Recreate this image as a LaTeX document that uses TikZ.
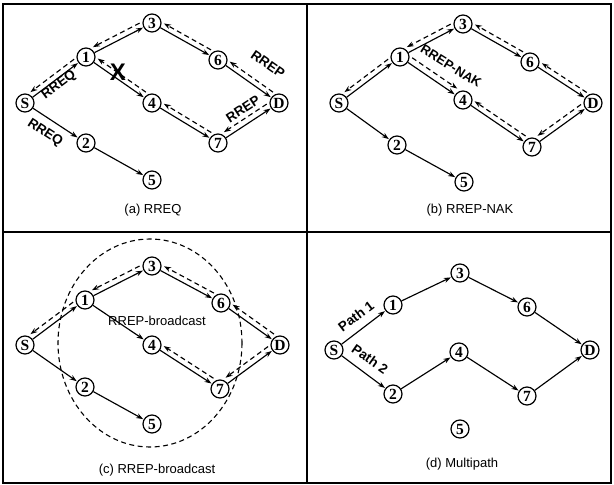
\documentclass[tikz,border=0pt]{standalone}
\usepackage{fontspec}
\setmainfont{Liberation Serif}
\setsansfont{Liberation Sans}
\usetikzlibrary{arrows.meta}
\begin{document}
\begin{tikzpicture}[x=1pt,y=-1pt,
  nd/.style={circle,draw,line width=1.2pt,minimum size=18pt,inner sep=0pt,font=\fontsize{15.5}{15.5}\selectfont\bfseries},
  fw/.style={line width=1.15pt,-{Stealth[length=7pt,width=5pt]},shorten >=0.5pt},
  rv/.style={line width=1.15pt,dash pattern=on 5pt off 3.5pt,-{Stealth[length=7pt,width=5pt]},shorten >=1pt,shorten <=1.5pt},
  off/.style={transform canvas={shift={#1}}},
  lbl/.style={font=\sffamily\bfseries\fontsize{13.5}{13.5}\selectfont,inner sep=0pt},
  captxt/.style={font=\sffamily\fontsize{13}{13}\selectfont,inner sep=0pt},
  frm/.style={line width=1.5pt}
]
\useasboundingbox (0,0) rectangle (614,485);
% frame
\draw[frm] (3,4) rectangle (611,483);
\draw[frm] (307,4) -- (307,483);
\draw[frm] (3,232) -- (611,232);

% ---------- panel (a)
\node[nd] (aS) at (25,103) {S};
\node[nd] (a1) at (86,57) {1};
\node[nd] (a3) at (152,23) {3};
\node[nd] (a6) at (218,60) {6};
\node[nd] (aD) at (279,103) {D};
\node[nd] (a4) at (152,103) {4};
\node[nd] (a7) at (218,143) {7};
\node[nd] (a2) at (86,143) {2};
\node[nd] (a5) at (152,180) {5};
\foreach \u/\v in {aS/a1,aS/a2,a1/a3,a1/a4,a3/a6,a6/aD,a4/a7,a7/aD,a2/a5}
  \draw[fw] (\u) -- (\v);
\draw[rv,off={(-3,-4.5)}] (a1) -- (aS);
\draw[rv,off={(-2.5,-5)}] (a3) -- (a1);
\draw[rv,off={(2.7,-4.7)}] (a6) -- (a3);
\draw[rv,off={(3,-4.5)}] (aD) -- (a6);
\draw[rv,off={(3,-4.5)}] (a4) -- (a1);
\draw[rv,off={(2.8,-4.7)}] (a7) -- (a4);
\draw[rv,off={(-3,-5)}] (aD) -- (a7);
\node[lbl,rotate=37] (la1) at (59,85) {RREQ};
\node[lbl,rotate=-33] (la2) at (45,133) {RREQ};
\node[lbl,rotate=-35] (la3) at (268,64) {RREP};
\node[lbl,rotate=33] (la4) at (243,109) {RREP};
\node[font=\sffamily\bfseries\fontsize{24}{24}\selectfont,inner sep=0pt] (ax) at (118,72) {X};
\node[captxt] (ca) at (153,210) {(a) RREQ};

% ---------- panel (b)
\node[nd] (bS) at (339,103) {S};
\node[nd] (b1) at (400,57) {1};
\node[nd] (b3) at (463,24) {3};
\node[nd] (b6) at (530,62) {6};
\node[nd] (bD) at (593,103) {D};
\node[nd] (b4) at (463,100) {4};
\node[nd] (b7) at (532,147) {7};
\node[nd] (b2) at (397,145) {2};
\node[nd] (b5) at (464,182) {5};
\foreach \u/\v in {bS/b1,bS/b2,b1/b3,b1/b4,b3/b6,b6/bD,b4/b7,b7/bD,b2/b5}
  \draw[fw] (\u) -- (\v);
\draw[rv,off={(-3,-4.5)}] (b1) -- (bS);
\draw[rv,off={(-2.5,-5)}] (b3) -- (b1);
\draw[rv,off={(2.7,-4.7)}] (b6) -- (b3);
\draw[rv,off={(3,-4.5)}] (bD) -- (b6);
\draw[rv,off={(3,-5.5)}] (b1) -- (b4);
\draw[rv,off={(2.8,-4.7)}] (b7) -- (b4);
\draw[rv,off={(-3,-5)}] (bD) -- (b7);
\node[lbl,rotate=-32,font=\sffamily\bfseries\fontsize{13}{13}\selectfont] (lb1) at (451,66) {RREP-NAK};
\node[captxt] (cb) at (470,210) {(b) RREP-NAK};

% ---------- panel (c)
\draw[line width=1.1pt,dash pattern=on 5pt off 3.5pt] (150,343) ellipse [x radius=92, y radius=104];
\node[nd] (cS) at (25,345) {S};
\node[nd] (c1) at (85,300) {1};
\node[nd] (c3) at (152,266) {3};
\node[nd] (c6) at (221,303) {6};
\node[nd] (cD) at (280,345) {D};
\node[nd] (c4) at (152,345) {4};
\node[nd] (c7) at (220,389) {7};
\node[nd] (c2) at (85,387) {2};
\node[nd] (c5) at (152,424) {5};
\foreach \u/\v in {cS/c1,cS/c2,c1/c3,c1/c4,c3/c6,c6/cD,c4/c7,c7/cD,c2/c5}
  \draw[fw] (\u) -- (\v);
\draw[rv,off={(-3,-4.5)}] (c1) -- (cS);
\draw[rv,off={(-2.5,-5)}] (c3) -- (c1);
\draw[rv,off={(2.7,-4.7)}] (c6) -- (c3);
\draw[rv,off={(3,-4.5)}] (cD) -- (c6);
\draw[rv,off={(2.8,-4.7)}] (c7) -- (c4);
\draw[rv,off={(-3,-5)}] (cD) -- (c7);
\node[font=\sffamily\fontsize{13}{13}\selectfont,inner sep=0pt] (lc1) at (157,321) {RREP-broadcast};
\node[captxt] (cc) at (157,470) {(c) RREP-broadcast};

% ---------- panel (d)
\node[nd] (dS) at (334,350) {S};
\node[nd] (d1) at (393,305) {1};
\node[nd] (d3) at (460,273) {3};
\node[nd] (d6) at (527,307) {6};
\node[nd] (dD) at (590,350) {D};
\node[nd] (d4) at (459,352) {4};
\node[nd] (d7) at (527,396) {7};
\node[nd] (d2) at (393,394) {2};
\node[nd] (d5) at (460,429) {5};
\foreach \u/\v in {dS/d1,d1/d3,d3/d6,d6/dD,dS/d2,d2/d4,d4/d7,d7/dD}
  \draw[fw] (\u) -- (\v);
\node[lbl,rotate=37] (ld1) at (356,316) {Path 1};
\node[lbl,rotate=-35] (ld2) at (370,359) {Path 2};
\node[captxt] (cd) at (462,464) {(d) Multipath};
\end{tikzpicture}
\end{document}
